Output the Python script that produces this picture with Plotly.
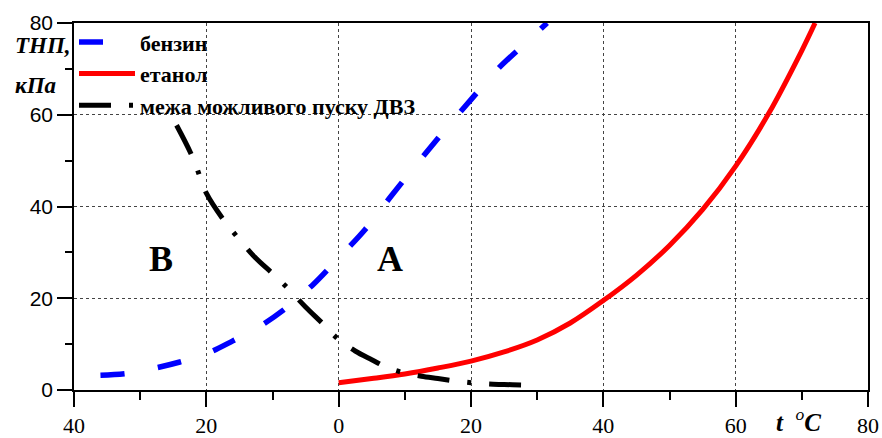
import plotly.graph_objects as go

# бензин
t_benz = [-36, -32, -28, -24, -20, -16, -12, -8, -4, 0, 4, 8, 12, 16, 20, 24, 28, 31.5]
p_benz = [3.2, 3.6, 4.7, 6.1, 7.9, 10.7, 13.8, 17.8, 22.8, 28.8, 35.0, 42.4, 49.6, 56.6, 63.3, 69.9, 75.3, 80.0]

# етанол
t_etan = [0, 5, 10, 15, 20, 25, 30, 35, 40, 45, 50, 55, 60, 65, 70, 72]
p_etan = [1.6, 2.5, 3.5, 4.8, 6.3, 8.3, 10.9, 14.6, 19.5, 25.0, 31.5, 39.3, 48.8, 60.3, 74.0, 80.0]

# межа можливого пуску ДВЗ
t_mezha = [-24.5, -22, -20, -17.5, -15, -12.5, -10, -7.5, -5, -2.5, 0, 2.5, 5, 7.5, 10, 12.5, 15, 17.5, 20, 22.5, 25, 27.5, 30]
p_mezha = [57.7, 50.5, 42.9, 37.3, 32.8, 28.7, 25.4, 21.9, 18.1, 14.6, 11.0, 8.5, 6.6, 4.8, 3.7, 3.0, 2.5, 2.0, 1.6, 1.3, 1.2, 1.1, 1.0]

x_tickvals = [-40, -20, 0, 20, 40, 60, 80]
x_ticktext = ["40", "20", "0", "20", "40", "60", "80"]
y_tickvals = [0, 20, 40, 60, 80]

SERIF = "Liberation Serif"
SANS = "Liberation Sans"

fig = go.Figure()
fig.add_trace(go.Scatter(x=t_benz, y=p_benz, mode="lines", name="бензин",
                         line=dict(color="#0000ff", width=5.5, dash="24px,34px", shape="spline")))
fig.add_trace(go.Scatter(x=t_etan, y=p_etan, mode="lines", name="етанол",
                         line=dict(color="#ff0000", width=5, shape="spline")))
fig.add_trace(go.Scatter(x=t_mezha, y=p_mezha, mode="lines", name="межа можливого пуску ДВЗ",
                         line=dict(color="#000000", width=5, dash="32px,18px,4px,18px", shape="spline")))

fig.update_layout(
    width=882, height=438,
    margin=dict(l=74, r=14, t=23, b=48, autoexpand=False),
    paper_bgcolor="white", plot_bgcolor="white",
    showlegend=True,
    legend=dict(x=0.0, y=1.005, xanchor="left", yanchor="top", bgcolor="rgba(0,0,0,0)",
                font=dict(family=SERIF, size=22, color="black", weight="bold"), itemwidth=56,
                tracegroupgap=0),
    xaxis=dict(range=[-40, 80], tickvals=x_tickvals, ticktext=x_ticktext,
               tickfont=dict(family=SERIF, size=22, color="black"),
               showline=True, linecolor="black", linewidth=1.5, mirror=True,
               ticks="outside", ticklen=15, tickwidth=1.5, tickcolor="black",
               minor=dict(ticks="outside", ticklen=8, tickwidth=1.5, dtick=10, tick0=0, tickcolor="black", showgrid=False),
               showgrid=True, gridcolor="#444444", griddash="dot", gridwidth=1,
               zeroline=False, fixedrange=True),
    yaxis=dict(range=[0, 80], tickvals=y_tickvals,
               tickfont=dict(family=SANS, size=21, color="black"),
               showline=True, linecolor="black", linewidth=1.5, mirror=True,
               ticks="outside", ticklen=15, tickwidth=1.5, tickcolor="black",
               minor=dict(ticks="outside", ticklen=7, tickwidth=1.5, dtick=10, tick0=0, tickcolor="black", showgrid=False),
               showgrid=True, gridcolor="#444444", griddash="dot", gridwidth=1,
               zeroline=False, fixedrange=True),
)

fig.add_annotation(text="<b><i>ТНП,</i></b>", xref="paper", yref="paper", x=-0.077, y=0.94,
                   xanchor="left", yanchor="middle", showarrow=False,
                   font=dict(family=SERIF, size=23, color="black"))
fig.add_annotation(text="<b><i>кПа</i></b>", xref="paper", yref="paper", x=-0.077, y=0.831,
                   xanchor="left", yanchor="middle", showarrow=False,
                   font=dict(family=SERIF, size=23, color="black"))
fig.add_annotation(text="<b><i>t</i></b>&nbsp;&nbsp;<sup><i>o</i></sup><b><i>C</i></b>", xref="paper", yref="paper",
                   x=0.882, y=-0.082, xanchor="left", yanchor="middle", showarrow=False,
                   font=dict(family=SERIF, size=25, color="black"))
fig.add_annotation(text="<b>B</b>", x=-26.8, y=28.5, showarrow=False,
                   font=dict(family=SERIF, size=36, color="black"))
fig.add_annotation(text="<b>A</b>", x=7.8, y=28.5, showarrow=False,
                   font=dict(family=SERIF, size=36, color="black"))

fig.write_html("out.html", config={"displayModeBar": False},
               post_script="document.body.style.margin='0';document.body.style.overflow='hidden';")
